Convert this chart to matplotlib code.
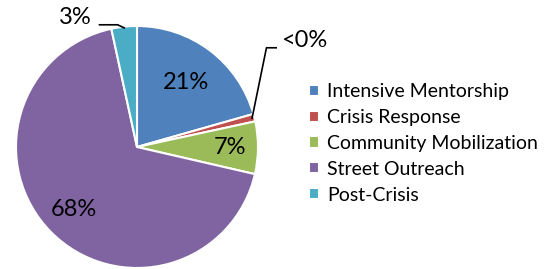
import matplotlib
matplotlib.use("Agg")
import matplotlib.pyplot as plt
import numpy as np

categories = ["Intensive Mentorship", "Crisis Response", "Community Mobilization", "Street Outreach", "Post-Crisis"]
values = [20.6, 1.0, 7.0, 68.0, 3.4]
labels = ["21%", "<0%", "7%", "68%", "3%"]
colors = ["#4F81BD", "#C0504D", "#9BBB59", "#8064A2", "#4BACC6"]

plt.rcParams['font.family'] = ['Lato', 'DejaVu Sans']

fig = plt.figure(figsize=(5.55, 2.69), dpi=100)
W, H = 555, 269
cx, cy, R = 137, 147, 121
ax = fig.add_axes([(cx - R) / W, (H - cy - R) / H, 2 * R / W, 2 * R / H])
wedges, _ = ax.pie(values, colors=colors, startangle=90, counterclock=False,
                   wedgeprops=dict(edgecolor="white", linewidth=1.5))
ax.set_xlim(-1, 1)
ax.set_ylim(-1, 1)
ax.set_aspect("equal")
ax.axis("off")

def mid(w):
    return np.deg2rad((w.theta1 + w.theta2) / 2)

fs = 17
# inside labels
for i, r in [(0, 0.67), (2, 0.77), (3, 0.73)]:
    a = mid(wedges[i])
    ax.text(r * np.cos(a), r * np.sin(a), labels[i], ha="center", va="center",
            fontsize=fs, color="black")

# outside labels with leader lines
# Crisis Response
a = mid(wedges[1])
p0 = (0.98 * np.cos(a), 0.98 * np.sin(a))
ax.plot([p0[0], 1.07, 1.15], [p0[1], 0.82, 0.82], color="black", lw=1.2, clip_on=False)
ax.text(1.38, 0.88, labels[1], ha="center", va="center", fontsize=fs, clip_on=False)
# Post-Crisis
a = mid(wedges[4])
p0 = (0.99 * np.cos(a), 0.99 * np.sin(a))
ax.plot([p0[0], -0.16, -0.31], [p0[1], 1.01, 1.01], color="black", lw=1.2, clip_on=False)
ax.text(-0.51, 1.07, labels[4], ha="center", va="center", fontsize=fs, clip_on=False)

fig.legend(wedges, categories, loc="upper left", bbox_to_anchor=(309 / W, 1 - 83 / H),
           frameon=False, fontsize=14, handlelength=0.5, handleheight=0.5,
           handletextpad=0.45, labelspacing=0.46, borderpad=0, borderaxespad=0)

fig.savefig("out.png", dpi=100)
